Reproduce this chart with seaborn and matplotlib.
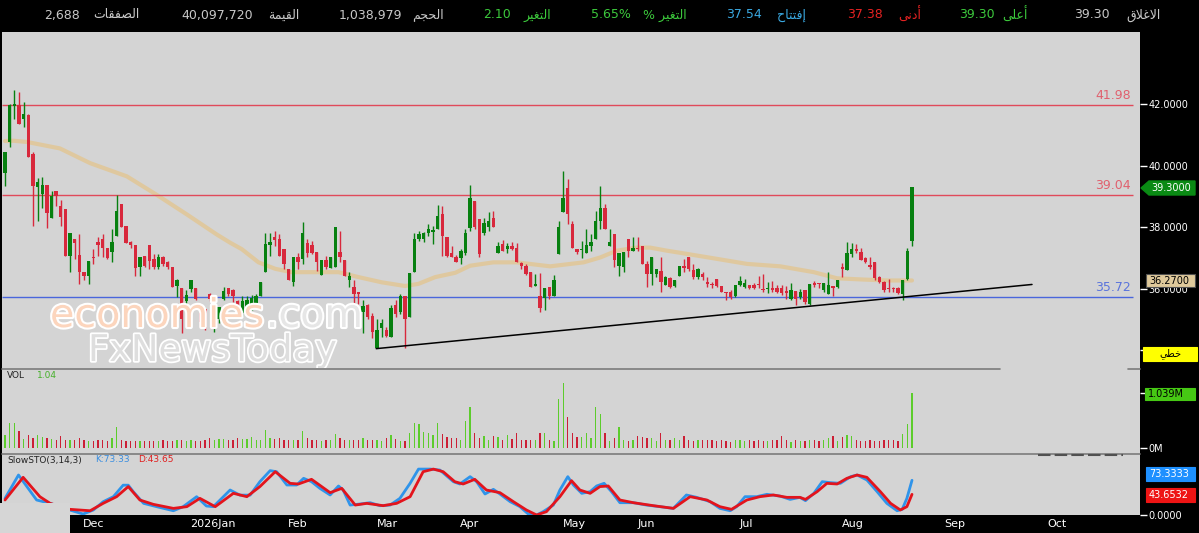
import numpy as np
import matplotlib
matplotlib.use('Agg')
import matplotlib.pyplot as plt
import seaborn as sns
from matplotlib.patches import Rectangle, Polygon
from matplotlib.lines import Line2D
import matplotlib.transforms as mtransforms
import matplotlib.patheffects as pe

# ---------------- data ----------------
opens = [39.76, 40.79, 41.95, 41.97, 41.54, 41.67, 40.39, 39.31, 39.10, 39.39,
         38.31, 39.19, 38.71, 38.60, 37.07, 37.63, 37.10, 36.56, 36.43, 37.02,
         37.53, 37.63, 37.34, 37.20, 37.72, 38.77, 38.04, 37.53, 37.43, 36.70,
         37.07, 37.42, 36.97, 36.70, 37.02, 36.86, 36.70, 36.10, 36.02, 35.60,
         36.00, 36.02, 35.37, 35.35, 35.82, 34.77, 35.03, 35.68, 36.02, 35.95,
         35.60, 35.20, 35.30, 35.40, 35.50, 35.78, 36.54, 37.43, 37.67, 37.63,
         37.29, 36.65, 36.21, 37.02, 36.97, 37.48, 37.42, 37.20, 36.45, 36.94,
         36.67, 36.70, 37.20, 36.94, 36.27, 36.05, 35.88, 35.23, 35.48, 35.10,
         34.06, 34.73, 34.65, 34.44, 35.46, 35.25, 35.78, 35.09, 36.56, 37.61,
         37.61, 37.83, 37.86, 37.94, 38.42, 37.67, 37.18, 37.02, 36.99, 37.18,
         37.99, 38.85, 38.26, 37.83, 38.02, 38.31, 37.16, 37.47, 37.31, 37.38,
         37.34, 36.84, 36.75, 36.56, 36.09, 35.78, 35.71, 36.05, 35.75, 37.13,
         38.49, 39.28, 38.10, 37.31, 37.25, 37.18, 37.40, 37.63, 38.20, 38.63,
         37.40, 37.77, 36.73, 36.70, 37.63, 37.24, 37.32, 37.40, 36.81, 36.48,
         36.48, 36.59, 36.13, 36.35, 36.09, 36.43, 36.73, 37.02, 36.61, 36.38,
         36.48, 36.21, 36.16, 36.32, 36.09, 35.91, 35.91, 35.76, 36.11, 36.05,
         36.11, 36.11, 36.15, 36.00, 36.00, 36.03, 36.04, 36.04, 35.92, 35.68,
         35.92, 35.73, 35.95, 35.52, 36.19, 36.19, 35.95, 35.84, 36.09, 36.05,
         36.70, 36.62, 37.13, 37.29, 37.20, 36.99, 36.77, 36.86, 36.38, 36.22,
         36.03, 36.03, 36.03, 35.84, 36.32, 37.54]
highs = [40.46, 42.00, 42.47, 42.40, 42.07, 41.70, 40.46, 39.60, 39.63, 39.39,
         39.17, 39.19, 38.90, 38.60, 37.80, 37.63, 37.77, 36.56, 36.91, 37.28,
         37.67, 37.77, 37.34, 37.94, 39.06, 38.77, 38.04, 37.56, 37.43, 37.02,
         37.07, 37.42, 37.13, 37.13, 37.07, 36.91, 36.70, 36.32, 36.02, 35.95,
         36.29, 36.02, 35.40, 35.35, 35.86, 34.95, 35.40, 36.05, 36.02, 36.00,
         35.65, 35.78, 35.78, 35.80, 35.84, 36.21, 37.83, 37.83, 37.88, 37.77,
         37.29, 36.65, 37.02, 37.18, 38.17, 37.61, 37.56, 37.20, 36.94, 37.07,
         37.02, 38.02, 37.88, 36.94, 36.54, 36.30, 35.88, 35.62, 35.52, 35.20,
         35.03, 35.03, 34.76, 35.46, 35.62, 35.84, 35.78, 36.52, 37.83, 37.88,
         37.85, 38.10, 38.04, 38.74, 38.69, 37.67, 37.40, 37.10, 37.31, 37.96,
         39.39, 38.85, 38.26, 38.31, 38.50, 38.53, 37.51, 37.59, 37.48, 37.53,
         37.48, 36.88, 36.81, 36.56, 36.48, 36.52, 36.02, 36.05, 36.45, 38.20,
         39.85, 39.57, 38.20, 37.31, 37.56, 37.94, 37.77, 38.53, 39.33, 38.77,
         37.94, 37.77, 37.16, 37.20, 37.63, 37.67, 37.70, 37.40, 36.91, 37.02,
         36.65, 37.02, 36.41, 36.37, 36.30, 36.75, 36.97, 37.02, 36.81, 36.67,
         36.54, 36.38, 36.21, 36.32, 36.09, 35.91, 35.95, 36.11, 36.41, 36.32,
         36.13, 36.19, 36.41, 36.48, 36.21, 36.24, 36.13, 36.11, 36.09, 36.19,
         35.92, 36.00, 35.95, 36.16, 36.24, 36.19, 36.19, 36.54, 36.09, 36.27,
         36.84, 37.53, 37.48, 37.45, 37.34, 37.05, 37.02, 36.86, 36.41, 36.24,
         36.32, 36.05, 36.05, 36.30, 37.34, 39.30]
lows = [39.33, 40.62, 41.54, 41.38, 41.27, 40.30, 38.04, 38.20, 38.63, 37.99,
        38.31, 38.69, 38.04, 37.07, 36.54, 36.97, 36.16, 36.27, 36.16, 36.80,
        37.07, 37.02, 36.97, 36.86, 37.72, 38.02, 37.50, 37.34, 36.43, 36.43,
        36.70, 36.64, 36.64, 36.64, 36.75, 36.64, 36.05, 35.73, 34.55, 35.50,
        35.90, 35.62, 34.76, 34.65, 35.60, 34.60, 34.87, 35.62, 35.78, 35.57,
        35.10, 35.10, 35.20, 35.30, 35.40, 35.78, 36.54, 37.07, 37.40, 37.07,
        36.65, 36.27, 36.09, 36.65, 36.81, 37.02, 37.13, 36.59, 36.45, 36.65,
        36.67, 36.70, 36.86, 36.43, 36.05, 35.46, 35.52, 34.55, 35.03, 34.40,
        34.06, 34.44, 34.44, 34.44, 35.09, 35.19, 34.06, 35.09, 36.56, 37.56,
        37.53, 37.72, 37.45, 37.94, 37.07, 37.02, 37.02, 36.86, 36.81, 37.10,
        37.88, 37.94, 37.05, 37.74, 37.88, 38.02, 37.16, 37.24, 37.18, 37.27,
        36.88, 36.64, 36.45, 36.05, 36.09, 35.25, 35.30, 35.68, 35.75, 37.13,
        38.49, 38.10, 37.34, 37.13, 36.99, 37.18, 37.24, 37.63, 37.94, 37.96,
        37.40, 36.70, 36.41, 36.54, 37.02, 37.24, 37.24, 36.81, 36.05, 36.11,
        36.38, 35.89, 36.11, 36.02, 36.05, 36.43, 36.54, 36.59, 36.32, 36.32,
        36.27, 36.05, 36.02, 36.05, 35.89, 35.62, 35.66, 35.73, 36.09, 36.02,
        36.00, 36.00, 36.02, 35.91, 35.87, 35.91, 35.87, 35.81, 35.68, 35.62,
        35.46, 35.68, 35.52, 35.46, 36.05, 36.02, 35.91, 35.84, 35.76, 36.02,
        36.38, 36.62, 37.05, 37.18, 36.95, 36.84, 36.64, 36.30, 36.19, 35.91,
        35.91, 35.89, 35.84, 35.65, 36.27, 37.38]
closes = [40.46, 41.97, 42.02, 41.38, 41.70, 40.30, 39.33, 39.47, 39.38, 38.47,
          39.03, 39.03, 38.34, 37.07, 37.80, 37.48, 36.54, 36.43, 36.91, 37.00,
          37.43, 37.34, 37.00, 37.53, 38.53, 38.02, 37.50, 37.42, 36.67, 37.02,
          36.75, 36.91, 36.70, 37.02, 36.80, 36.70, 36.05, 36.29, 35.03, 35.80,
          36.29, 35.67, 34.92, 34.71, 35.68, 34.92, 35.40, 35.94, 35.84, 35.78,
          35.30, 35.60, 35.65, 35.70, 35.75, 36.21, 37.45, 37.53, 37.59, 37.07,
          36.81, 36.27, 37.02, 36.86, 37.80, 37.18, 37.18, 36.86, 36.94, 36.70,
          37.02, 38.02, 37.02, 36.43, 36.43, 35.84, 35.82, 35.44, 35.09, 34.60,
          34.65, 34.90, 34.47, 35.36, 35.19, 35.78, 35.03, 36.52, 37.61, 37.77,
          37.83, 37.94, 37.91, 38.37, 37.72, 37.07, 37.02, 36.88, 37.22, 37.83,
          38.96, 38.02, 37.13, 38.13, 38.20, 38.02, 37.40, 37.24, 37.38, 37.29,
          36.88, 36.73, 36.48, 36.05, 36.16, 35.36, 36.02, 35.75, 36.29, 38.02,
          38.96, 38.42, 37.34, 37.20, 37.29, 37.42, 37.51, 38.20, 38.63, 37.96,
          37.51, 36.95, 37.16, 37.20, 37.24, 37.32, 37.29, 36.81, 36.48, 37.02,
          36.65, 36.22, 36.37, 36.05, 36.30, 36.75, 36.67, 36.65, 36.38, 36.65,
          36.38, 36.16, 36.11, 36.09, 35.91, 35.87, 35.73, 36.11, 36.24, 36.19,
          36.02, 36.02, 36.11, 35.95, 36.04, 35.95, 35.91, 35.87, 35.87, 35.95,
          35.66, 35.89, 35.57, 36.16, 36.13, 36.16, 36.19, 36.13, 36.04, 36.27,
          36.64, 37.16, 37.29, 37.24, 36.95, 36.86, 36.70, 36.34, 36.22, 35.95,
          35.98, 36.00, 35.87, 36.30, 37.24, 39.30]
volumes_m = [0.24, 0.47, 0.47, 0.32, 0.17, 0.24, 0.19, 0.24, 0.21, 0.19,
             0.17, 0.16, 0.22, 0.16, 0.15, 0.16, 0.19, 0.16, 0.13, 0.13,
             0.15, 0.16, 0.13, 0.19, 0.39, 0.15, 0.13, 0.13, 0.13, 0.13,
             0.14, 0.13, 0.14, 0.13, 0.15, 0.13, 0.14, 0.16, 0.15, 0.14,
             0.15, 0.14, 0.13, 0.16, 0.19, 0.15, 0.17, 0.17, 0.16, 0.16,
             0.19, 0.17, 0.17, 0.21, 0.16, 0.15, 0.34, 0.19, 0.17, 0.19,
             0.16, 0.16, 0.16, 0.15, 0.32, 0.19, 0.16, 0.15, 0.13, 0.16,
             0.15, 0.26, 0.19, 0.16, 0.15, 0.16, 0.15, 0.19, 0.15, 0.15,
             0.16, 0.13, 0.19, 0.24, 0.17,
             0.13, 0.13, 0.28, 0.47, 0.45, 0.30, 0.28, 0.24, 0.47, 0.26,
             0.21, 0.19, 0.19, 0.16, 0.51, 0.77, 0.28, 0.19, 0.22, 0.16,
             0.22, 0.21, 0.16, 0.24, 0.17, 0.28, 0.16, 0.15, 0.16, 0.16,
             0.28, 0.28, 0.16, 0.13, 0.93, 1.24, 0.58, 0.29, 0.21, 0.21,
             0.28, 0.19, 0.77, 0.64, 0.29, 0.13, 0.19, 0.40, 0.16, 0.13,
             0.16, 0.22, 0.21, 0.19, 0.19, 0.13, 0.28, 0.16, 0.16, 0.19,
             0.16, 0.22, 0.15, 0.13, 0.15, 0.16, 0.16, 0.15, 0.13, 0.16,
             0.13, 0.11, 0.16, 0.15, 0.13, 0.16, 0.13, 0.15, 0.13, 0.13,
             0.16, 0.15, 0.22, 0.16, 0.11, 0.16,
             0.13, 0.13, 0.15, 0.15, 0.13, 0.16, 0.19, 0.22, 0.13, 0.21,
             0.24, 0.22, 0.15, 0.13, 0.13, 0.15, 0.13, 0.13, 0.15, 0.15,
             0.15, 0.13, 0.26, 0.45, 1.039]

ma_pos = [0, 1.8, 4.7, 11.8, 18.3, 26.2, 32.6, 39.1, 45.5, 48.4,
          50.9, 54.5, 58.1, 61.6, 67.4, 71.7, 76, 81, 86, 88.9,
          92.5, 96.8, 100, 105, 110, 117.2, 124.4, 128, 131.5, 135.8,
          138.7, 142.3, 145.2, 152.4, 159.5, 166.7, 173.9, 178.9, 184.6, 189.6, 195]
ma_vals = [40.81, 40.82, 40.78, 40.57, 40.09, 39.66, 39.06, 38.42, 37.77, 37.50,
           37.29, 36.86, 36.65, 36.54, 36.54, 36.54, 36.38, 36.21, 36.09, 36.16,
           36.38, 36.52, 36.75, 36.86, 36.86, 36.73, 36.86, 37.02, 37.24, 37.34,
           37.34, 37.24, 37.17, 36.99, 36.81, 36.73, 36.54, 36.34, 36.30, 36.27, 36.27]

k_pos = [0, 2.9, 6.8, 9.7, 13.9, 16.8, 19, 21.1, 23.3, 25.4, 26.5, 27.6, 29.8, 32.6, 36.2,
         38.3, 41.2, 43.3, 44.8, 48.4, 50.5, 52.7, 54.8, 57, 58.4, 60.6, 62.7, 64.2, 65.9,
         67.7, 69.9, 71.7, 72.7, 74.2, 76.3, 78.5, 80.6, 82.8, 84.9, 87.1, 88.9, 91.4, 93.5,
         96.4, 97.8, 100, 101.4, 103.2, 105, 106.4, 108.6, 110.7, 112.5, 114.3, 115.7, 117.9,
         119.3, 121, 122.2, 124, 125.8, 127.2, 128.8, 130.4, 132.2, 135.1, 137.9, 140.8, 143.7,
         146.5, 148.7, 151.6, 153.7, 155.9, 157.3, 159.1, 161.6, 163.8, 166.6, 168.8, 170.9,
         172.1, 173.9, 175.7, 177.5, 179.6, 181.8, 183.2, 185.3, 187.5, 189.6, 191.8, 192.9,
         193.9, 195]
k_vals = [35, 84.5, 31.7, 24.6, 10.6, 2, 10.6, 28, 38.7, 63, 63, 49, 24.6, 17.6, 9,
          17.6, 38.7, 19, 17.6, 52.8, 42, 42, 70.4, 93.7, 91.5, 63.4, 63.4, 77.5, 70.4,
          56.3, 42.3, 61.3, 52.8, 21, 23.2, 26, 19.7, 21, 35.2, 67, 97, 97, 95,
          70.4, 65.5, 81, 70.4, 44.4, 54.2, 44.4, 28.2, 17.6, 2, 0, 7, 21,
          52.8, 81, 63.4, 45.8, 49.3, 61.3, 66.9, 49.3, 26, 26, 21, 17.6, 14,
          42.3, 37.3, 28.2, 14, 9, 17.6, 38.7, 38.7, 43.7, 40, 33, 37.3,
          30.3, 45.8, 70.4, 68.3, 66.9, 81, 84.5, 74, 49.3, 24.6, 9, 12,
          35.2, 73.33]
d_pos = [0, 3.9, 7.5, 9.7, 13.9, 18.3, 21.1, 24, 26.5, 29, 31.9, 36.2, 39.1, 41.9, 45.2,
         49.1, 52, 54.8, 58.1, 61.3, 63.1, 65.9, 69.9, 72.4, 75.3, 77.8, 81.3, 84.2, 87.1,
         89.9, 92.1, 94.2, 96.7, 98.5, 101, 103.5, 106.4, 109.3, 112.1, 114.3, 116.4, 119.3,
         121.8, 123.6, 125.8, 127.9, 129.7, 132.2, 135.1, 139.4, 143.7, 147.3, 150.9, 153.7,
         156.2, 159.5, 162.3, 165.2, 168.1, 170.9, 172.1, 174.6, 176.7, 178.9, 181, 183.2,
         185.3, 188.2, 190.4, 192.5, 193.9, 195]
d_vals = [31.7, 79.6, 38.7, 24.6, 12, 9, 24.6, 38.7, 60, 31.7, 22.5, 14, 17.6, 35.2, 17.6,
          45.8, 38.7, 60, 91.5, 66.9, 65.5, 75.4, 47.2, 56.3, 21, 24.6, 19.7, 24.6, 38.7,
          91.5, 97, 91.5, 70.4, 65.5, 75.4, 52.8, 47.2, 28.2, 10.6, 0, 7, 38.7,
          72.5, 52.8, 45.8, 60, 61.3, 31.7, 26, 19.7, 14, 38.7, 31.7, 17.6,
          12, 31.7, 38.7, 42.3, 37.3, 37.3, 33, 49.3, 66.9, 65.5, 77.5, 84.5,
          79.6, 49.3, 24.6, 10.6, 17.6, 43.65]

levels = [41.98, 39.04, 35.72]
level_labels = ['41.98', '39.04', '35.72']
trend_x = [79.8, 220.8]
trend_y = [34.05, 36.14]

month_pos = [16.8, 39.8, 60.8, 80.0, 97.8, 120.0, 135.9, 158.0, 180.0, 201.9, 224.0]
month_labels = ['Dec', '2026Jan', 'Feb', 'Mar', 'Apr', 'May', 'Jun', 'Jul', 'Aug', 'Sep', 'Oct']
price_ticks = [34, 36, 38, 40, 42]
price_tick_labels = ['', '36.0000', '38.0000', '40.0000', '42.0000']

last_close = 39.30
last_ma = 36.27
last_vol = 1.039
last_k = 73.3333
last_d = 43.6532

header = [  # (label, value, colour)
    ('الاغلاق', '39.30', '#c8c8c8'),
    ('أعلى', '39.30', '#3cc83c'),
    ('أدنى', '37.38', '#e52222'),
    ('إفتتاح', '37.54', '#3aa8e0'),
    ('التغير %', '5.65%', '#3cc83c'),
    ('التغير', '2.10', '#3cc83c'),
    ('الحجم', '1,038,979', '#c8c8c8'),
    ('القيمة', '40,097,720', '#c8c8c8'),
    ('الصفقات', '2,688', '#c8c8c8'),
]

# ---------------- simple Arabic shaping (presentation forms, visual order) ----------------
AR_FORMS = {
    'ا': ('\uFE8D', '\uFE8E', None, None), 'أ': ('\uFE83', '\uFE84', None, None),
    'إ': ('\uFE87', '\uFE88', None, None), 'ة': ('\uFE93', '\uFE94', None, None),
    'ت': ('\uFE95', '\uFE96', '\uFE97', '\uFE98'), 'ج': ('\uFE9D', '\uFE9E', '\uFE9F', '\uFEA0'),
    'ح': ('\uFEA1', '\uFEA2', '\uFEA3', '\uFEA4'), 'خ': ('\uFEA5', '\uFEA6', '\uFEA7', '\uFEA8'),
    'د': ('\uFEA9', '\uFEAA', None, None), 'ر': ('\uFEAD', '\uFEAE', None, None),
    'ص': ('\uFEB9', '\uFEBA', '\uFEBB', '\uFEBC'), 'ط': ('\uFEC1', '\uFEC2', '\uFEC3', '\uFEC4'),
    'ع': ('\uFEC9', '\uFECA', '\uFECB', '\uFECC'), 'غ': ('\uFECD', '\uFECE', '\uFECF', '\uFED0'),
    'ف': ('\uFED1', '\uFED2', '\uFED3', '\uFED4'), 'ق': ('\uFED5', '\uFED6', '\uFED7', '\uFED8'),
    'ل': ('\uFEDD', '\uFEDE', '\uFEDF', '\uFEE0'), 'م': ('\uFEE1', '\uFEE2', '\uFEE3', '\uFEE4'),
    'ن': ('\uFEE5', '\uFEE6', '\uFEE7', '\uFEE8'), 'ى': ('\uFEEF', '\uFEF0', None, None),
    'ي': ('\uFEF1', '\uFEF2', '\uFEF3', '\uFEF4'),
}
LAM_ALEF = {'ا': ('\uFEFB', '\uFEFC'), 'أ': ('\uFEF7', '\uFEF8'), 'إ': ('\uFEF9', '\uFEFA')}


def shape(word):
    toks = []
    i = 0
    while i < len(word):
        ch = word[i]
        if ch == 'ل' and i + 1 < len(word) and word[i + 1] in LAM_ALEF:
            toks.append(('LA', word[i + 1]))
            i += 2
        else:
            toks.append(('C', ch))
            i += 1

    def joins_next(t):
        return t[0] == 'C' and t[1] in AR_FORMS and AR_FORMS[t[1]][2] is not None

    def is_ar(t):
        return t[0] == 'LA' or t[1] in AR_FORMS

    out = []
    for j, t in enumerate(toks):
        prev = j > 0 and joins_next(toks[j - 1])
        nxt = j + 1 < len(toks) and is_ar(toks[j + 1])
        if t[0] == 'LA':
            out.append(LAM_ALEF[t[1]][1 if prev else 0])
            continue
        f = AR_FORMS.get(t[1])
        if f is None:
            out.append(t[1])
            continue
        cn = f[2] is not None and nxt
        if prev and cn:
            out.append(f[3])
        elif prev:
            out.append(f[1])
        elif cn:
            out.append(f[2])
        else:
            out.append(f[0])
    return ''.join(reversed(out))


# ---------------- figure ----------------
sns.set_theme(style='white')
plt.rcParams['font.family'] = ['DejaVu Sans']

W, H = 1199, 533
fig = plt.figure(figsize=(W / 100, H / 100), dpi=100, facecolor='black')
BG = '#d4d4d4'


def fx(px):
    return px / W


def fy(py):
    return 1 - py / H


def axes_px(x0, y0, x1, y1):
    a = fig.add_axes([fx(x0), fy(y1), fx(x1) - fx(x0), fy(y0) - fy(y1)])
    a.set_facecolor(BG)
    for s in a.spines.values():
        s.set_visible(False)
    return a


ax = axes_px(2, 32, 1140, 368)
axv = axes_px(2, 368, 1140, 453)
axs = axes_px(2, 453, 1140, 515)

N = len(closes)
idx = np.arange(N)
o = np.array(opens); h = np.array(highs); l = np.array(lows); c = np.array(closes)
up = c >= o
ppb = (912 - 5) / (N - 1)
xlim = ((2 - 5) / ppb, (1140 - 5) / ppb)
for a in (ax, axv, axs):
    a.set_xlim(*xlim)

GREEN, RED = '#078010', '#d8283c'
ccol = np.where(up, GREEN, RED)

# price panel
ax.set_ylim(33.42, 44.36)
sns.lineplot(x=ma_pos, y=ma_vals, ax=ax, color='#e2c692', lw=3, alpha=0.8, zorder=2)
ax.vlines(idx, l, h, colors=ccol, lw=1, zorder=3)
ax.bar(idx, np.maximum(np.abs(c - o), 0.025), bottom=np.minimum(o, c), width=0.72,
       color=ccol, linewidth=0, zorder=4)
lvl_col = ['#e04a5a', '#e04a5a', '#4a66dc']
lab_col = ['#e0606e', '#e0606e', '#5a74dc']
x_end = (1133 - 5) / ppb
x_lab = (1131 - 5) / ppb
lab_tr = mtransforms.offset_copy(ax.transData, fig=fig, y=3, units='dots')
for v, t, lc, tc in zip(levels, level_labels, lvl_col, lab_col):
    ax.hlines(v, xlim[0], x_end, color=lc, lw=1, zorder=2.5)
    ax.text(x_lab, v, t, ha='right', va='bottom', color=tc, fontsize=9, transform=lab_tr)
ax.plot(trend_x, trend_y, color='black', lw=1.1, zorder=5)

ax.yaxis.tick_right()
ax.set_yticks(price_ticks, price_tick_labels)
ax.set_xticks([])
ax.tick_params(axis='y', colors='white', labelcolor='white', length=5, width=1,
               labelsize=7, pad=1, direction='out')

# watermark
ax.text(fx(50), fy(327), 'economies', transform=fig.transFigure, fontsize=28.5,
        color='#fcd5bd', ha='left', va='baseline', zorder=7,
        path_effects=[pe.withStroke(linewidth=3, foreground='white')])
ax.text(fx(363), fy(327), '.com', transform=fig.transFigure, fontsize=28.5,
        color='#e6e6e6', ha='right', va='baseline', zorder=7,
        path_effects=[pe.withStroke(linewidth=3, foreground='white')])
ax.text(fx(88), fy(361), 'FxNewsToday', transform=fig.transFigure, fontsize=26.5,
        color='#dedede', ha='left', va='baseline', zorder=7,
        path_effects=[pe.withStroke(linewidth=2.5, foreground='white')])

# volume panel
axv.set_ylim(-0.096, 1.52)
vcol = np.where(up, '#5ccc2c', '#cc1f35')
axv.bar(idx, volumes_m, width=0.28, color=vcol, linewidth=0)
axv.yaxis.tick_right()
axv.set_yticks([0, last_vol], ['0M', ''])
axv.set_xticks([])
axv.tick_params(axis='y', colors='white', labelcolor='white', length=5, width=1,
                labelsize=7, pad=1, direction='out')

# stochastic panel
axs.set_ylim(0, 131)
sns.lineplot(x=k_pos, y=k_vals, ax=axs, color='#2f94ea', lw=2)
sns.lineplot(x=d_pos, y=d_vals, ax=axs, color='#e3141c', lw=2)
axs.yaxis.tick_right()
axs.set_yticks([0], ['0.0000'])
axs.set_ylabel('')
axs.set_xticks(month_pos, month_labels)
for lab in axs.get_xticklabels():
    lab.set_ha('left')
axs.tick_params(axis='x', direction='in', length=4, color='#9a9a9a', labelcolor='white',
                labelsize=8, pad=3)
axs.tick_params(axis='y', colors='white', labelcolor='white', length=5, width=1,
                labelsize=7, pad=1, direction='out')
for a in (ax, axv):
    a.set_ylabel('')
    a.set_xlabel('')
axs.set_xlabel('')

# separators
fig.add_artist(Line2D([fx(2), fx(1000)], [fy(368.5)] * 2, color='#7c7c7c', lw=1.2))
fig.add_artist(Line2D([fx(1128), fx(1140)], [fy(368.5)] * 2, color='#7c7c7c', lw=1.2))
fig.add_artist(Line2D([fx(2), fx(1140)], [fy(453.5)] * 2, color='#7c7c7c', lw=1.2))
fig.add_artist(Line2D([fx(1038), fx(1123)], [fy(455)] * 2, color='#505050', lw=1.5,
                      linestyle=(0, (6, 2))))

# bottom-left light box
fig.add_artist(Rectangle((fx(0), fy(533)), fx(70), fy(503) - fy(533), transform=fig.transFigure,
                         fc='#d6d6d6', ec='none', zorder=5))


# value boxes on the right axis
def box(x0, y0, x1, y1, fc, ec=None):
    fig.add_artist(Rectangle((fx(x0), fy(y1)), fx(x1) - fx(x0), fy(y0) - fy(y1),
                             transform=fig.transFigure, fc=fc, ec=ec or fc, lw=0.8, zorder=4))


fig.add_artist(Polygon([(fx(1141), fy(188)), (fx(1149), fy(181)), (fx(1195), fy(181)),
                        (fx(1195), fy(195)), (fx(1149), fy(195))], closed=True,
                       transform=fig.transFigure, fc='#0a8a14', ec='#0a8a14', zorder=4))
fig.text(fx(1151), fy(188), f'{last_close:.4f}', color='white', fontsize=7, va='center',
         ha='left', zorder=6)
box(1146, 274, 1195, 287, '#dfc99b', '#505050')
fig.text(fx(1149), fy(280.5), f'{last_ma:.4f}', color='black', fontsize=7, va='center',
         ha='left', zorder=6)
box(1143, 347, 1197, 361, '#ffff00')
fig.text(fx(1170), fy(354), shape('خطي'), color='black', fontsize=7, va='center',
         ha='center', zorder=6)
box(1145, 388, 1195, 400, '#46c814')
fig.text(fx(1148), fy(394), f'{last_vol:.3f}M', color='black', fontsize=7, va='center',
         ha='left', zorder=6)
box(1146, 467, 1195, 481, '#1e90ff')
fig.text(fx(1149), fy(474), f'{last_k:.4f}', color='white', fontsize=7, va='center',
         ha='left', zorder=6)
box(1146, 488, 1195, 502, '#ee1414')
fig.text(fx(1149), fy(495), f'{last_d:.4f}', color='white', fontsize=7, va='center',
         ha='left', zorder=6)

# panel captions
fig.text(fx(7), fy(375), 'VOL', color='#222222', fontsize=6.5, va='center', ha='left', zorder=6)
fig.text(fx(37), fy(375), '1.04', color='#46b02a', fontsize=6.5, va='center', ha='left', zorder=6)
fig.text(fx(7), fy(460), 'SlowSTO(3,14,3)', color='#222222', fontsize=6.5, va='center',
         ha='left', zorder=6)
fig.text(fx(95), fy(460), 'K:73.33', color='#3a8ee0', fontsize=6.5, va='center', ha='left', zorder=6)
fig.text(fx(138), fy(460), 'D:43.65', color='#e02020', fontsize=6.5, va='center', ha='left', zorder=6)

# header bar
label_right = [1161, 1028, 921, 806, 687, 551, 444, 299, 140]
value_right = [1110, 995, 883, 762, 631, 511, 402, 253, 80]
for (lab, val, col), lr, vr in zip(header, label_right, value_right):
    fig.text(fx(lr), fy(15), shape(lab), color=col, fontsize=9, ha='right', va='center')
    fig.text(fx(vr), fy(15), val, color=col, fontsize=9, ha='right', va='center')

fig.savefig('out.png', dpi=100, facecolor=fig.get_facecolor())
